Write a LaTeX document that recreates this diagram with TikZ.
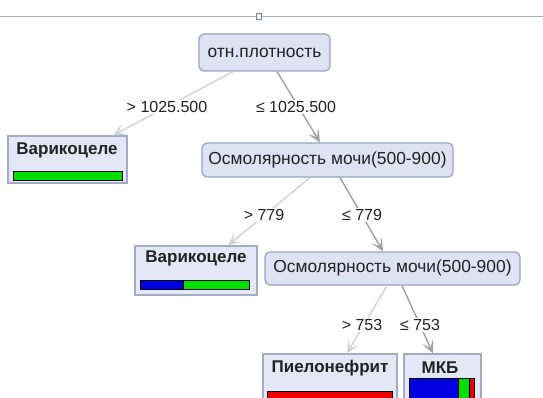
\documentclass[tikz,border=0pt]{standalone}
\usepackage{fontspec}
\setmainfont{Liberation Sans}
\usetikzlibrary{calc,arrows.meta}
\definecolor{nodefill}{HTML}{DEE3F4}
\definecolor{nodeborder}{HTML}{98A2C4}
\definecolor{leaffill}{HTML}{E4E8F6}
\definecolor{leafborder}{HTML}{A3ABC6}
\definecolor{txt}{HTML}{222222}
\definecolor{edgelight}{HTML}{D2D2D2}
\definecolor{edgedark}{HTML}{A0A0A0}
\definecolor{toplinecol}{HTML}{9DB6C6}
\definecolor{barblue}{HTML}{0000E0}
\definecolor{bargreen}{HTML}{00E000}
\definecolor{barred}{HTML}{F00000}
\tikzset{
  inner/.style={draw=nodeborder, fill=nodefill, rounded corners=5pt, line width=1.2pt,
    text=txt, font=\fontsize{17.4}{20}\selectfont, inner sep=0pt},
  leafbox/.style={draw=leafborder, fill=leaffill, line width=1.2pt, inner sep=0pt},
  leaftitle/.style={text=txt, font=\fontsize{17}{20}\selectfont\bfseries, inner sep=0pt},
  elabel/.style={fill=white, text=txt, font=\fontsize{16}{19}\selectfont, inner sep=1.5pt},
  edgeL/.style={draw=edgelight, line width=1.4pt,
    -{Stealth[length=13pt, width=12pt, inset=7pt, fill=edgelight!85!black]}},
  edgeR/.style={draw=edgedark, line width=1.4pt,
    -{Stealth[length=13pt, width=12pt, inset=7pt, fill=edgedark!85!black]}},
  bar/.style={draw=black, line width=0.9pt}
}
\begin{document}
\begin{tikzpicture}[x=1pt,y=-1pt]
\useasboundingbox (0,0) rectangle (543,398);
\clip (0,0) rectangle (543,398);
% top line
\draw[toplinecol, line width=1.2pt] (0,16.5) -- (543,16.5);
\node[draw=toplinecol!70!blue, fill=white, line width=0.8pt, minimum size=5.5pt, inner sep=0pt] (handle) at (259,16.5) {};
% internal nodes
\node[inner, minimum width=131pt, minimum height=37pt] (root) at (264.5,52.5) {отн.плотность};
\node[inner, minimum width=251pt, minimum height=34pt] (n2) at (327.5,160) {Осмолярность мочи(500-900)};
\node[inner, minimum width=255pt, minimum height=33pt] (n3) at (392.5,268.5) {Осмолярность мочи(500-900)};
% leaves
\node[leafbox, minimum width=119pt, minimum height=47pt] (l1) at (67.5,159.5) {};
\node[leaftitle] (l1t) at (67,150) {Варикоцеле};
\draw[bar, fill=bargreen] (13,171) rectangle (122,180);
\node[leafbox, minimum width=122pt, minimum height=49pt] (l2) at (196,270.5) {};
\node[leaftitle] (l2t) at (196,258) {Варикоцеле};
\draw[bar, fill=barblue] (140,280) rectangle (183,289);
\draw[bar, fill=bargreen] (183,280) rectangle (249,289);
\draw[bar] (140,280) rectangle (249,289);
\node[leafbox, minimum width=134pt, minimum height=66pt] (l3) at (330,387) {};
\node[leaftitle] (l3t) at (330,368) {Пиелонефрит};
\draw[bar, fill=barred] (267,391) rectangle (392,404);
\node[leafbox, minimum width=77pt, minimum height=66pt] (l4) at (442.5,387) {};
\node[leaftitle] (l4t) at (440,368) {МКБ};
\draw[bar, fill=barblue] (409,378) rectangle (458,404);
\draw[bar, fill=bargreen] (458,378) rectangle (469,404);
\draw[bar, fill=barred] (469,378) rectangle (474,404);
\draw[bar] (409,378) rectangle (474,404);
% edges
\draw[edgeL] ($(root.south)+(-31.5,0)$) -- ($(l1.north)+(45.5,0)$);
\draw[edgeR] ($(root.south)+(12.5,0)$) -- ($(n2.north)+(-7.5,0)$);
\draw[edgeL] ($(n2.south)+(-17.5,0)$) -- ($(l2.north)+(32,0)$);
\draw[edgeR] ($(n2.south)+(12.5,0)$) -- ($(n3.north)+(-9.5,0)$);
\draw[edgeL] ($(n3.south)+(-5.5,0)$) -- ($(l3.north)+(17,0)$);
\draw[edgeR] ($(n3.south)+(9.5,0)$) -- ($(l4.north)+(-9.5,0)$);
% edge labels
\node[elabel] (e1) at (167,107) {> 1025.500};
\node[elabel] (e2) at (296,107) {≤ 1025.500};
\node[elabel] (e3) at (264,215) {> 779};
\node[elabel] (e4) at (362,215) {≤ 779};
\node[elabel] (e5) at (362,325) {> 753};
\node[elabel] (e6) at (420,325) {≤ 753};
\end{tikzpicture}
\end{document}
